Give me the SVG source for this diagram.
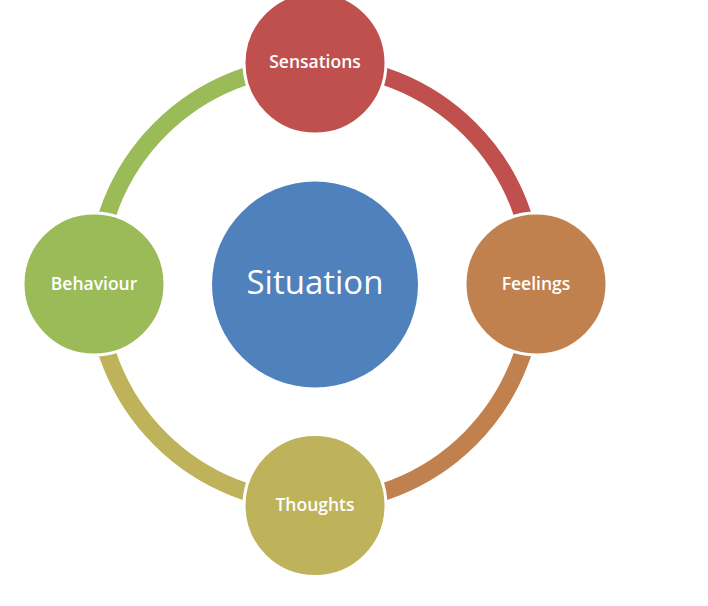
<svg xmlns="http://www.w3.org/2000/svg" width="708" height="606" viewBox="0 0 708 606">
<style>
.arc{fill:none;stroke-width:17.5}
.node{stroke:#fff;stroke-width:3}
.lbl{font-family:"Open Sans","Noto Sans","Liberation Sans",sans-serif;fill:#fff;text-anchor:middle;font-size:17.5px;font-weight:600}
</style>
<rect width="708" height="606" fill="#fff"/>
<g id="connectors">
<path class="arc" stroke="#C0504D" d="M315,65 A219,219 0 0 1 534,284"/>
<path class="arc" stroke="#C0814F" d="M534,284 A219,219 0 0 1 315,503"/>
<path class="arc" stroke="#BEB25A" d="M315,503 A219,219 0 0 1 96,284"/>
<path class="arc" stroke="#9BBB59" d="M96,284 A219,219 0 0 1 315,65"/>
</g>
<g id="situation">
<circle cx="315" cy="284.5" r="103" fill="#4F81BD"/>
<text class="lbl" x="315" y="294" style="font-size:33px;font-weight:400">Situation</text>
</g>
<g id="sensations">
<circle class="node" cx="315" cy="63" r="71" fill="#C0504D"/>
<text class="lbl" x="315" y="68">Sensations</text>
</g>
<g id="feelings">
<circle class="node" cx="536" cy="284" r="71" fill="#C0814F"/>
<text class="lbl" x="536" y="290">Feelings</text>
</g>
<g id="thoughts">
<circle class="node" cx="315" cy="505.5" r="71" fill="#BEB25A"/>
<text class="lbl" x="315" y="511">Thoughts</text>
</g>
<g id="behaviour">
<circle class="node" cx="94" cy="284" r="71" fill="#9BBB59"/>
<text class="lbl" x="94" y="290">Behaviour</text>
</g>
</svg>
